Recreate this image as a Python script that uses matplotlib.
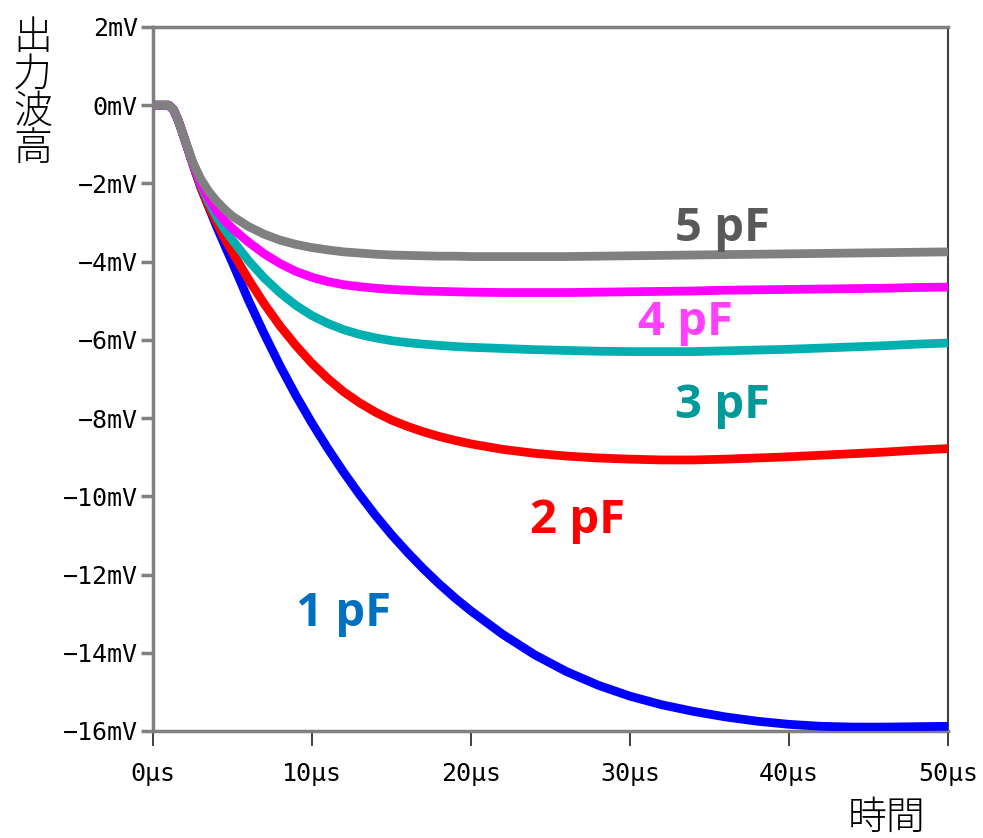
import matplotlib
matplotlib.use("Agg")
import matplotlib.pyplot as plt

#### sample times (us) shared by every trace
t_us = [0, 0.5, 1.0, 1.3, 1.6, 2.0, 2.5, 3, 3.5, 4, 4.5, 5, 6, 7, 8, 9, 10, 11, 12, 13, 14, 15, 16, 17, 18, 19,
        20, 22, 24, 26, 28, 30, 32, 34, 36, 38, 40, 42, 44, 46, 48, 50]

#### output pulse height (mV) for each feedback capacitance
v_1pF = [0, 0, 0, -0.12, -0.4, -0.88, -1.5, -2.1, -2.6, -3.1, -3.57, -4.03, -4.98, -5.85, -6.67, -7.43, -8.13,
         -8.78, -9.39, -9.96, -10.49, -10.98, -11.43, -11.85, -12.24, -12.6, -12.93, -13.53, -14.05, -14.48,
         -14.83, -15.11, -15.33, -15.5, -15.64, -15.75, -15.83, -15.88, -15.9, -15.9, -15.89, -15.88]
v_2pF = [0, 0, 0, -0.12, -0.4, -0.88, -1.5, -2.08, -2.58, -3.0, -3.4, -3.76, -4.45, -5.08, -5.65, -6.15, -6.6,
         -6.99, -7.33, -7.61, -7.85, -8.05, -8.21, -8.35, -8.47, -8.57, -8.66, -8.8, -8.9, -8.97, -9.02, -9.05,
         -9.07, -9.07, -9.05, -9.02, -8.99, -8.95, -8.91, -8.87, -8.82, -8.78]
v_3pF = [0, 0, 0, -0.12, -0.4, -0.88, -1.48, -2.02, -2.47, -2.85, -3.17, -3.45, -3.97, -4.42, -4.8, -5.12, -5.38,
         -5.58, -5.74, -5.86, -5.95, -6.02, -6.07, -6.11, -6.14, -6.17, -6.19, -6.22, -6.25, -6.27, -6.29, -6.3,
         -6.3, -6.3, -6.28, -6.26, -6.24, -6.21, -6.18, -6.15, -6.11, -6.08]
v_4pF = [0, 0, 0, -0.12, -0.4, -0.88, -1.47, -1.98, -2.38, -2.7, -2.95, -3.15, -3.5, -3.8, -4.05, -4.25, -4.4,
         -4.51, -4.59, -4.64, -4.68, -4.71, -4.73, -4.75, -4.76, -4.77, -4.78, -4.79, -4.79, -4.79, -4.78, -4.77,
         -4.76, -4.75, -4.73, -4.72, -4.71, -4.7, -4.69, -4.68, -4.66, -4.65]
v_5pF = [0, 0, 0, -0.12, -0.4, -0.88, -1.45, -1.88, -2.2, -2.45, -2.66, -2.84, -3.1, -3.3, -3.45, -3.56, -3.64,
         -3.7, -3.75, -3.78, -3.81, -3.83, -3.84, -3.85, -3.86, -3.86, -3.87, -3.87, -3.87, -3.87, -3.86, -3.85,
         -3.84, -3.83, -3.82, -3.81, -3.8, -3.79, -3.78, -3.77, -3.76, -3.75]

cap_labels = ["1 pF", "2 pF", "3 pF", "4 pF", "5 pF"]
y_ticks = [2, 0, -2, -4, -6, -8, -10, -12, -14, -16]
x_ticks = [0, 10, 20, 30, 40, 50]

#### trace colours and the matching text colours
line_colors = ["#0000ff", "#ff0000", "#00b0b0", "#ff00ff", "#808080"]
text_colors = ["#0070c0", "#ff0000", "#009999", "#ff40ff", "#595959"]
label_pos = [(12.0, -12.99), (26.7, -10.61), (35.8, -7.67), (33.5, -5.55), (35.8, -3.14)]

fig = plt.figure(figsize=(9.83, 8.38), dpi=100)
ax = fig.add_axes([0.1556, 0.1277, 0.8088, 0.8401])

series = [v_1pF, v_2pF, v_3pF, v_4pF, v_5pF]
for vals, col in zip(series, line_colors):
    ax.plot(t_us, vals, color=col, lw=6.3, solid_joinstyle="round", solid_capstyle="butt", zorder=3)

for lab, col, (x, y) in zip(cap_labels, text_colors, label_pos):
    ax.text(x, y, lab, color=col, fontsize=34, fontweight="bold", family="Open Sans",
            ha="center", va="center", zorder=4)

ax.set_xlim(0, 50)
ax.set_ylim(-16, 2)
ax.set_xticks(x_ticks)
ax.set_xticklabels([f"{v}µs" for v in x_ticks], family="DejaVu Sans Mono", fontsize=18)
ax.set_yticks(y_ticks)
ax.set_yticklabels([f"{v}mV".replace("-", "\u2212") for v in y_ticks], family="DejaVu Sans Mono", fontsize=18)

#### frame: grey left/bottom/top, dark right edge
for side in ["left", "bottom", "top"]:
    ax.spines[side].set_color("#808080")
    ax.spines[side].set_linewidth(2.5)
ax.spines["right"].set_color("#404040")
ax.spines["right"].set_linewidth(1.5)
ax.tick_params(axis="y", direction="out", length=9, width=2.5, color="#808080", pad=2)
ax.tick_params(axis="x", direction="out", length=11, width=1.3, color="#303030", pad=11)

#### axis titles
fig.text(0.033, 0.978, "\n".join("出力波高"), family=["Noto Sans CJK JP", "DejaVu Sans"],
         fontsize=28, fontweight="light", ha="center", va="top", linespacing=0.92)
fig.text(0.902, 0.0, "時間", family=["Noto Sans CJK JP", "DejaVu Sans"],
         fontsize=28, fontweight="light", ha="center", va="bottom")

fig.savefig("out.png", dpi=100)
